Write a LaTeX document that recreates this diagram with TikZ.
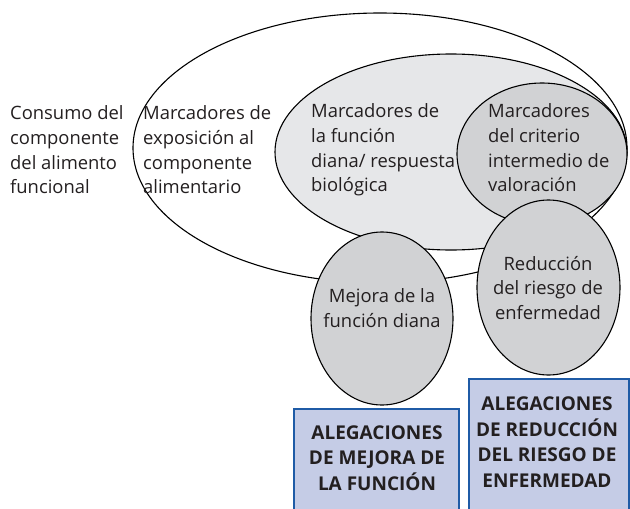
\documentclass[tikz,border=0pt]{standalone}
\usepackage{fontspec}
\setmainfont{Open Sans}
\usetikzlibrary{shapes.geometric}
\definecolor{midgray}{HTML}{E6E7E9}
\definecolor{darkgray}{HTML}{D1D2D4}
\definecolor{boxfill}{HTML}{C5CCE6}
\definecolor{boxline}{HTML}{1F5BA6}
\definecolor{txt}{HTML}{231F20}
\tikzset{
  ell/.style={ellipse, draw=black, line width=1.1pt, inner sep=0pt},
  lbl/.style={align=left, anchor=west, inner sep=0pt, text=txt, font=\fontsize{18.4}{24.7}\selectfont},
  clbl/.style={align=center, inner sep=0pt, text=txt, font=\fontsize{18.4}{24.7}\selectfont},
  claimbox/.style={draw=boxline, fill=boxfill, line width=2pt},
  blbl/.style={align=center, inner sep=0pt, text=txt, font=\fontsize{19}{25.5}\selectfont\bfseries}
}
\begin{document}
\begin{tikzpicture}[x=1pt,y=-1pt]
\useasboundingbox (0,0) rectangle (630,509);
\clip (0,0) rectangle (630,509);
% ellipses
\node[ell, fill=white, minimum width=494pt, minimum height=270pt] (outer) at (380,148) {};
\node[ell, fill=midgray, minimum width=352pt, minimum height=196pt] (middle) at (451,152) {};
\node[ell, fill=darkgray, minimum width=170pt, minimum height=142pt] (crit) at (542,154) {};
\node[ell, fill=darkgray, minimum width=143pt, minimum height=175pt] (red) at (548.5,287.5) {};
\node[ell, fill=darkgray, minimum width=142pt, minimum height=173pt] (mej) at (382,318.5) {};
% boxes
\node[claimbox, minimum width=165pt, minimum height=120pt, anchor=north west, inner sep=0pt] (box1) at (293,408) {};
\node[claimbox, minimum width=160pt, minimum height=150pt, anchor=north west, inner sep=0pt] (box2) at (468,378) {};
% labels
\node[lbl] (t1) at (10,150) {Consumo del\\componente\\del alimento\\funcional};
\node[lbl] (t2) at (143,150) {Marcadores de\\exposición al\\componente\\alimentario};
\node[lbl] (t3) at (311,150) {Marcadores de\\la función\\diana/ respuesta\\biológica};
\node[lbl] (t4) at (488,148) {Marcadores\\del criterio\\intermedio de\\valoración};
\node[clbl] (t5) at (382,308) {Mejora de la\\función diana};
\node[clbl] (t6) at (548,288) {Reducción\\del riesgo de\\enfermedad};
\node[blbl] (b1) at (377,458) {ALEGACIONES\\DE MEJORA DE\\LA FUNCIÓN};
\node[blbl] (b2) at (547,442) {ALEGACIONES\\DE REDUCCIÓN\\DEL RIESGO DE\\ENFERMEDAD};
\end{tikzpicture}
\end{document}
